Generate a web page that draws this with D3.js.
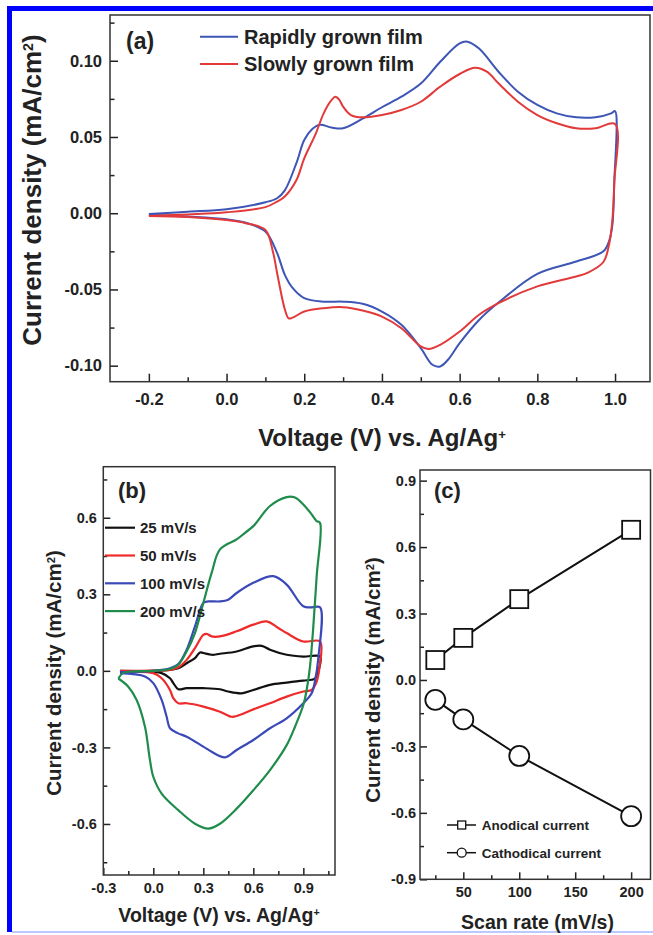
<!DOCTYPE html>
<html lang="en">
<head>
<meta charset="UTF-8">
<title>CV of films</title>
<script src="https://cdn.jsdelivr.net/npm/d3@7"></script>
<style>
  body { margin: 0; background: #fff; }
  svg text { font-family: "Liberation Sans", Arial, sans-serif; }
</style>
</head>
<body>
<svg id="fig" width="653" height="935"></svg>
<script>
// ---- panel (a): CV of rapidly / slowly grown films, [V, mA/cm2]
var rapidFwd = [[-0.2,-0.0005],[-0.1,0.001],[0.0,0.0026],[0.1,0.0072],[0.13,0.0098],[0.15,0.015],[0.18,0.033],[0.2,0.048],[0.22,0.055],[0.24,0.058],[0.27,0.0562],[0.3,0.0557],[0.35,0.062],[0.4,0.0695],[0.45,0.0764],[0.5,0.085],[0.55,0.0993],[0.6,0.1114],[0.62,0.1125],[0.65,0.108],[0.7,0.0928],[0.75,0.0797],[0.8,0.071],[0.85,0.0655],[0.9,0.0629],[0.95,0.063],[0.99,0.0655],[1.0,0.067]];
var rapidRev = [[0.998,0.02],[0.993,-0.008],[0.985,-0.018],[0.97,-0.025],[0.9,-0.0317],[0.8,-0.0398],[0.7,-0.0586],[0.65,-0.07],[0.6,-0.0852],[0.57,-0.0961],[0.55,-0.1005],[0.53,-0.0994],[0.5,-0.0885],[0.45,-0.0732],[0.4,-0.0645],[0.35,-0.0594],[0.3,-0.058],[0.25,-0.058],[0.2,-0.0557],[0.17,-0.049],[0.15,-0.0404],[0.13,-0.026],[0.1,-0.012],[0.05,-0.0062],[0.0,-0.004],[-0.1,-0.0022],[-0.2,-0.001]];
var slowFwd = [[-0.2,-0.0018],[-0.1,-0.0008],[0.0,0.0006],[0.1,0.004],[0.13,0.0076],[0.15,0.011],[0.18,0.0218],[0.2,0.036],[0.23,0.0524],[0.25,0.0655],[0.27,0.0741],[0.28,0.0764],[0.29,0.0745],[0.3,0.0699],[0.32,0.0644],[0.35,0.0629],[0.4,0.0644],[0.45,0.0677],[0.5,0.0731],[0.55,0.083],[0.6,0.0913],[0.64,0.0954],[0.67,0.0928],[0.7,0.0852],[0.75,0.0731],[0.8,0.0644],[0.85,0.059],[0.9,0.0557],[0.95,0.0557],[1.0,0.0585]];
var slowRev = [[0.998,0.02],[0.993,-0.005],[0.985,-0.02],[0.97,-0.032],[0.93,-0.039],[0.9,-0.0415],[0.8,-0.048],[0.7,-0.059],[0.65,-0.0666],[0.6,-0.0776],[0.55,-0.0863],[0.52,-0.0891],[0.5,-0.0874],[0.45,-0.0754],[0.4,-0.0678],[0.35,-0.0638],[0.3,-0.0616],[0.25,-0.0623],[0.2,-0.0645],[0.17,-0.0685],[0.16,-0.069],[0.15,-0.063],[0.13,-0.039],[0.12,-0.026],[0.1,-0.011],[0.05,-0.0066],[0.0,-0.0045],[-0.1,-0.0025],[-0.2,-0.0018]];
var filmNames = ["Rapidly grown film", "Slowly grown film"];

// ---- panel (b): CV at different scan rates
var rateNames = ["25 mV/s", "50 mV/s", "100 mV/s", "200 mV/s"];
var b25Fwd = [[-0.2,0],[0.0,0],[0.1,0.004],[0.15,0.01],[0.2,0.03],[0.25,0.05],[0.28,0.072],[0.3,0.07],[0.35,0.063],[0.4,0.067],[0.5,0.076],[0.6,0.096],[0.65,0.098],[0.7,0.083],[0.8,0.063],[0.9,0.056],[1.0,0.056]];
var b25Rev = [[0.995,0.01],[0.97,-0.03],[0.95,-0.035],[0.9,-0.038],[0.8,-0.046],[0.7,-0.055],[0.6,-0.075],[0.53,-0.088],[0.45,-0.081],[0.4,-0.072],[0.3,-0.068],[0.2,-0.068],[0.15,-0.072],[0.12,-0.048],[0.1,-0.029],[0.05,-0.009],[0.0,-0.004],[-0.2,-0.003]];
var b50Fwd = [[-0.2,0],[0.0,0.001],[0.1,0.004],[0.15,0.014],[0.2,0.043],[0.25,0.089],[0.3,0.141],[0.32,0.145],[0.35,0.135],[0.4,0.135],[0.5,0.155],[0.6,0.181],[0.68,0.194],[0.75,0.168],[0.8,0.148],[0.9,0.115],[1.0,0.115]];
var b50Rev = [[0.998,0.02],[0.98,-0.042],[0.95,-0.075],[0.9,-0.081],[0.8,-0.101],[0.7,-0.127],[0.6,-0.151],[0.5,-0.177],[0.47,-0.18],[0.4,-0.16],[0.3,-0.14],[0.2,-0.127],[0.15,-0.127],[0.12,-0.107],[0.1,-0.075],[0.05,-0.029],[0.0,-0.009],[-0.2,-0.006]];
var b100Fwd = [[-0.2,-0.005],[0.0,0],[0.1,0.01],[0.15,0.027],[0.2,0.083],[0.25,0.174],[0.3,0.266],[0.33,0.272],[0.4,0.272],[0.45,0.279],[0.5,0.305],[0.6,0.345],[0.72,0.371],[0.8,0.338],[0.9,0.253],[0.95,0.249],[1.0,0.249]];
var b100Rev = [[0.99,0.05],[0.97,-0.04],[0.95,-0.088],[0.9,-0.127],[0.8,-0.186],[0.7,-0.225],[0.6,-0.271],[0.5,-0.31],[0.43,-0.339],[0.35,-0.317],[0.3,-0.297],[0.2,-0.258],[0.15,-0.245],[0.1,-0.225],[0.08,-0.18],[0.05,-0.114],[0.0,-0.048],[-0.05,-0.022],[-0.2,-0.009]];
var b200Fwd = [[-0.21,-0.03],[-0.18,-0.008],[-0.1,-0.002],[0.0,0],[0.1,0.007],[0.15,0.024],[0.2,0.076],[0.25,0.148],[0.3,0.266],[0.35,0.384],[0.4,0.476],[0.5,0.515],[0.55,0.541],[0.6,0.567],[0.7,0.646],[0.8,0.681],[0.85,0.679],[0.9,0.652],[0.95,0.613],[0.98,0.587],[1.0,0.58]];
var b200Rev = [[0.98,0.371],[0.96,0.174],[0.94,0.017],[0.92,-0.075],[0.9,-0.134],[0.85,-0.219],[0.8,-0.291],[0.7,-0.389],[0.6,-0.468],[0.5,-0.54],[0.4,-0.599],[0.33,-0.618],[0.25,-0.599],[0.15,-0.546],[0.05,-0.481],[0.0,-0.415],[-0.02,-0.35],[-0.05,-0.219],[-0.1,-0.114],[-0.15,-0.062],[-0.21,-0.03]];

// ---- panel (c): peak current vs scan rate
var scanRates = [25, 50, 100, 200];
var anodicPeak = [0.09, 0.19, 0.365, 0.678];
var cathodicPeak = [-0.09, -0.178, -0.343, -0.615];
var peakNames = ["Anodical current", "Cathodical current"];

var svg = d3.select("#fig");
var ink = "#222";

// page border like the source figure
svg.append("rect").attr("x", 7).attr("y", 6).attr("width", 5).attr("height", 926).attr("fill", "#0000ff");
svg.append("rect").attr("x", 7).attr("y", 6).attr("width", 646).attr("height", 5).attr("fill", "#0000ff");
svg.append("line").attr("x1", 12).attr("x2", 653).attr("y1", 932).attr("y2", 932).attr("stroke", "#aab4ff").attr("stroke-width", 1.5);

function axes(x, y, o) {
    var y0 = y.range()[0], x0 = x.range()[0];
    function style(g, size) {
        g.select(".domain").remove();
        g.attr("font-family", null);
        g.selectAll("line").attr("stroke", ink).attr("stroke-width", 1.5);
        g.selectAll("text").attr("font-size", size).attr("font-weight", "bold").attr("fill", "#222");
    }
    svg.append("g").attr("transform", "translate(0," + y0 + ")")
        .call(d3.axisBottom(x).tickValues(o.xMajor).tickFormat(o.xFmt).tickSizeInner(-o.major).tickSizeOuter(0).tickPadding(o.xPad))
        .call(style, o.font);
    svg.append("g").attr("transform", "translate(0," + y0 + ")")
        .call(d3.axisBottom(x).tickValues(o.xMinor).tickFormat("").tickSizeInner(-o.minor).tickSizeOuter(0))
        .call(style, o.font);
    svg.append("g").attr("transform", "translate(" + x0 + ",0)")
        .call(d3.axisLeft(y).tickValues(o.yMajor).tickFormat(o.yFmt).tickSizeInner(-o.major).tickSizeOuter(0).tickPadding(o.yPad))
        .call(style, o.font);
    svg.append("g").attr("transform", "translate(" + x0 + ",0)")
        .call(d3.axisLeft(y).tickValues(o.yMinor).tickFormat("").tickSizeInner(-o.minor).tickSizeOuter(0))
        .call(style, o.font);
    svg.append("rect")
        .attr("x", x.range()[0]).attr("y", y.range()[1])
        .attr("width", x.range()[1] - x.range()[0]).attr("height", y.range()[0] - y.range()[1])
        .attr("fill", "none").attr("stroke", "#333").attr("stroke-width", 1.5);
}

// title helper: text with superscript part
function title(x, y, rot, size, parts) {
    var t = svg.append("text")
        .attr("transform", "translate(" + x + "," + y + ")" + (rot ? " rotate(-90)" : ""))
        .attr("text-anchor", "middle").attr("font-size", size).attr("font-weight", "bold").attr("fill", "#222");
    parts.forEach(function(p) {
        var s = t.append("tspan").text(p[0]);
        if (p[1]) s.attr("baseline-shift", "super").attr("font-size", size * 0.55);
    });
}

// ================= (a)
var xa = d3.scaleLinear().domain([-0.3, 1.09]).range([110, 650]);
var ya = d3.scaleLinear().domain([-0.1105, 0.13]).range([381.7, 15]);
axes(xa, ya, {
    xMajor: d3.range(-0.2, 1.01, 0.2), xMinor: d3.range(-0.1, 1.01, 0.2),
    yMajor: [-0.1, -0.05, 0, 0.05, 0.1], yMinor: [-0.075, -0.025, 0.025, 0.075, 0.125],
    xFmt: function(d) { return d.toFixed(1); }, yFmt: function(d) { return d.toFixed(2); },
    font: 16.5, major: 8, minor: 4.5, xPad: 12, yPad: 8
});
var lineA = d3.line().x(function(d) { return xa(d[0]); }).y(function(d) { return ya(d[1]); })
    .curve(d3.curveCatmullRom.alpha(0.5));
var filmColors = ["#3d55b5", "#e23a3a"];
[rapidFwd.concat(rapidRev), slowFwd.concat(slowRev)].forEach(function(s, i) {
    svg.append("path").attr("d", lineA(s)).attr("fill", "none")
        .attr("stroke", filmColors[i]).attr("stroke-width", 2);
});
filmNames.forEach(function(n, i) {
    var yy = 36.7 + i * 27.3;
    svg.append("line").attr("x1", 200).attr("x2", 238).attr("y1", yy).attr("y2", yy)
        .attr("stroke", filmColors[i]).attr("stroke-width", 2);
    svg.append("text").attr("x", 244).attr("y", yy).attr("dy", "0.36em")
        .attr("font-size", 20).attr("font-weight", "bold").attr("fill", "#222").text(n);
});
svg.append("text").attr("x", 126).attr("y", 48.5).attr("font-size", 23).attr("font-weight", "bold").attr("fill", "#222").text("(a)");
title(41, 190, true, 26, [["Current density (mA/cm"], ["2", true], [")"]]);
title(382, 446, false, 24, [["Voltage (V) vs. Ag/Ag"], ["+", true]]);

// ================= (b)
var xb = d3.scaleLinear().domain([-0.3, 1.09]).range([103.3, 335]);
var yb = d3.scaleLinear().domain([-0.8, 0.8]).range([875, 466.7]);
axes(xb, yb, {
    xMajor: [-0.3, 0, 0.3, 0.6, 0.9], xMinor: [-0.15, 0.15, 0.45, 0.75, 1.05],
    yMajor: [-0.6, -0.3, 0, 0.3, 0.6], yMinor: [-0.75, -0.45, -0.15, 0.15, 0.45, 0.75],
    xFmt: function(d) { return d.toFixed(1); }, yFmt: function(d) { return d.toFixed(1); },
    font: 14.5, major: 7, minor: 4, xPad: 7.5, yPad: 6.5
});
var lineB = d3.line().x(function(d) { return xb(d[0]); }).y(function(d) { return yb(d[1]); })
    .curve(d3.curveCatmullRom.alpha(0.5));
var rateColors = ["#111111", "#ee2a2a", "#3a48b8", "#1f8c4c"];
[b25Fwd.concat(b25Rev), b50Fwd.concat(b50Rev), b100Fwd.concat(b100Rev), b200Fwd.concat(b200Rev)].forEach(function(s, i) {
    svg.append("path").attr("d", lineB(s)).attr("fill", "none")
        .attr("stroke", rateColors[i]).attr("stroke-width", 2.2).attr("stroke-linejoin", "round");
});
rateNames.forEach(function(n, i) {
    var yy = 527.7 + i * 27.8;
    svg.append("line").attr("x1", 105).attr("x2", 135).attr("y1", yy).attr("y2", yy)
        .attr("stroke", rateColors[i]).attr("stroke-width", 2.2);
    svg.append("text").attr("x", 140).attr("y", yy).attr("dy", "0.36em")
        .attr("font-size", 15).attr("font-weight", "bold").attr("fill", "#222").text(n);
});
svg.append("text").attr("x", 118).attr("y", 497.5).attr("font-size", 22).attr("font-weight", "bold").attr("fill", "#222").text("(b)");
title(61, 673, true, 20.5, [["Current density (mA/cm"], ["2", true], [")"]]);
title(219, 922, false, 19.5, [["Voltage (V) vs. Ag/Ag"], ["+", true]]);

// ================= (c)
var xc = d3.scaleLinear().domain([11.3, 217.3]).range([420, 650.5]);
var yc = d3.scaleLinear().domain([-0.9, 0.948]).range([879.3, 470]);
axes(xc, yc, {
    xMajor: [50, 100, 150, 200], xMinor: [25, 75, 125, 175],
    yMajor: [-0.9, -0.6, -0.3, 0, 0.3, 0.6, 0.9], yMinor: [-0.75, -0.45, -0.15, 0.15, 0.45, 0.75],
    xFmt: function(d) { return d; }, yFmt: function(d) { return d.toFixed(1); },
    font: 14.5, major: 7, minor: 4, xPad: 7.5, yPad: 4
});
var peakSeries = [anodicPeak, cathodicPeak];
var lineC = d3.line().x(function(d, i) { return xc(scanRates[i]); }).y(function(d) { return yc(d); });
peakSeries.forEach(function(s, k) {
    svg.append("path").attr("d", lineC(s)).attr("fill", "none").attr("stroke", "#111").attr("stroke-width", 2);
    var g = svg.append("g");
    s.forEach(function(v, i) {
        var cx = xc(scanRates[i]), cy = yc(v);
        if (k === 0) {
            g.append("rect").attr("x", cx - 9).attr("y", cy - 9).attr("width", 18).attr("height", 18)
                .attr("fill", "#fff").attr("stroke", "#111").attr("stroke-width", 1.8);
        } else {
            g.append("circle").attr("cx", cx).attr("cy", cy).attr("r", 10)
                .attr("fill", "#fff").attr("stroke", "#111").attr("stroke-width", 1.8);
        }
    });
});
peakNames.forEach(function(n, k) {
    var yy = 825 + k * 27.7;
    svg.append("line").attr("x1", 447).attr("x2", 476).attr("y1", yy).attr("y2", yy)
        .attr("stroke", "#111").attr("stroke-width", 1.5);
    if (k === 0) {
        svg.append("rect").attr("x", 457.7).attr("y", yy - 4).attr("width", 8).attr("height", 8)
            .attr("fill", "#fff").attr("stroke", "#111").attr("stroke-width", 1.3);
    } else {
        svg.append("circle").attr("cx", 461.7).attr("cy", yy).attr("r", 4.5)
            .attr("fill", "#fff").attr("stroke", "#111").attr("stroke-width", 1.3);
    }
    svg.append("text").attr("x", 481.7).attr("y", yy).attr("dy", "0.36em")
        .attr("font-size", 13.5).attr("font-weight", "bold").attr("fill", "#222").text(n);
});
svg.append("text").attr("x", 434).attr("y", 498).attr("font-size", 22).attr("font-weight", "bold").attr("fill", "#222").text("(c)");
title(380, 680, true, 20.5, [["Current density (mA/cm"], ["2", true], [")"]]);
title(537.5, 929, false, 19.5, [["Scan rate (mV/s)"]]);
</script>
</body>
</html>
